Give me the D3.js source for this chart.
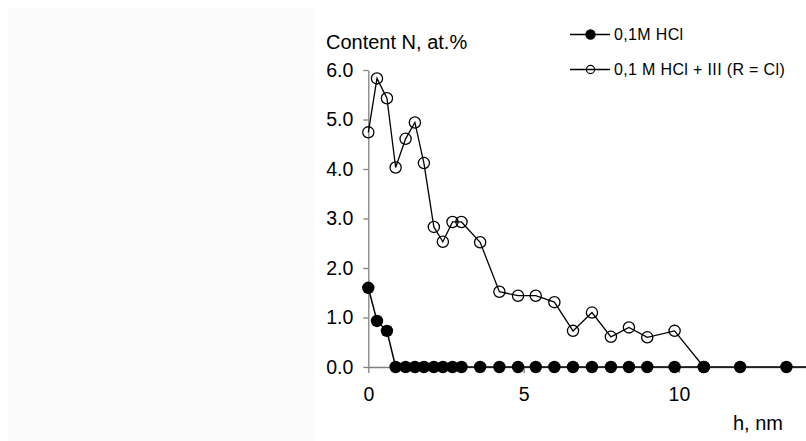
<!DOCTYPE html>
<html>
<head>
<meta charset="utf-8">
<script src="https://cdn.jsdelivr.net/npm/d3@7"></script>
<style>
  html, body { margin: 0; padding: 0; background: #ffffff; }
  svg { display: block; font-family: "Liberation Sans", Arial, sans-serif; }
</style>
</head>
<body>
<svg id="chart" width="806" height="441"></svg>
<script>
// ---- data ----
const hValues = [0, 0.28, 0.6, 0.88, 1.2, 1.5, 1.79, 2.11, 2.4, 2.71, 3.0, 3.6, 4.22, 4.82, 5.39, 5.99, 6.59, 7.2, 7.81, 8.39, 8.98, 9.86, 10.8, 11.97, 13.46, 14.6];
const hclValues = [1.6, 0.93, 0.73, 0, 0, 0, 0, 0, 0, 0, 0, 0, 0, 0, 0, 0, 0, 0, 0, 0, 0, 0, 0, 0, 0, 0];
const hclInhibitorValues = [4.74, 5.83, 5.43, 4.03, 4.61, 4.94, 4.12, 2.83, 2.53, 2.93, 2.93, 2.52, 1.52, 1.44, 1.44, 1.31, 0.73, 1.1, 0.61, 0.8, 0.6, 0.73, 0];
const seriesNames = ["0,1M HCl", "0,1 M HCl + III (R = Cl)"];
const yTicks = [0, 1, 2, 3, 4, 5, 6];
const xTicks = [0, 5, 10];
const yTitle = "Content N, at.%";
const xTitle = "h, nm";

// ---- layout ----
const svg = d3.select("#chart");
const W = 806, H = 441;
const x = d3.scaleLinear().domain([0, 14.09]).range([368.3, 806]);
const y = d3.scaleLinear().domain([0, 6]).range([367, 70]);

// faint panel on the left
svg.append("rect").attr("x", 8).attr("y", 8).attr("width", 307).attr("height", 433)
  .attr("fill", "#fbfbfb");

svg.append("defs").append("clipPath").attr("id", "plotclip")
  .append("rect").attr("x", 0).attr("y", 0).attr("width", W).attr("height", H);

// y axis
const yAxis = svg.append("g").attr("transform", `translate(${x(0)},0)`)
  .call(d3.axisLeft(y).tickValues(yTicks).tickFormat(d3.format(".1f")).tickSize(5).tickPadding(10).tickSizeOuter(0));
yAxis.select(".domain").attr("stroke", "#808080").attr("stroke-width", 1.3);
yAxis.selectAll(".tick line").attr("stroke", "#808080").attr("stroke-width", 1.3);
yAxis.selectAll(".tick text").attr("font-size", "19.5px").attr("fill", "#000")
  .attr("font-family", "Liberation Sans, Arial, sans-serif");

// x axis
const xAxis = svg.append("g").attr("transform", `translate(0,${y(0)})`)
  .call(d3.axisBottom(x).tickValues(xTicks).tickFormat(d3.format("d")).tickSize(6).tickPadding(14).tickSizeOuter(0));
xAxis.select(".domain").attr("stroke", "#808080").attr("stroke-width", 1.3);
xAxis.selectAll(".tick line").attr("stroke", "#808080").attr("stroke-width", 1.3);
xAxis.selectAll(".tick text").attr("font-size", "19.5px").attr("fill", "#000")
  .attr("font-family", "Liberation Sans, Arial, sans-serif");

// titles
svg.append("text").attr("x", 326).attr("y", 48.5).attr("font-size", "20px").attr("fill", "#000").text(yTitle);
svg.append("text").attr("x", 733).attr("y", 430).attr("font-size", "20px").attr("fill", "#000").text(xTitle);

const plot = svg.append("g").attr("clip-path", "url(#plotclip)");
const line = d3.line().x(d => x(d[0])).y(d => y(d[1]));

// open series
const openData = hclInhibitorValues.map((v, i) => [hValues[i], v]);
plot.append("path").datum(openData).attr("d", line)
  .attr("fill", "none").attr("stroke", "#000").attr("stroke-width", 1.3);
plot.selectAll("circle.open").data(openData).join("circle").attr("class", "open")
  .attr("cx", d => x(d[0])).attr("cy", d => y(d[1])).attr("r", 5.6)
  .attr("fill", "none").attr("stroke", "#000").attr("stroke-width", 1.3);

// filled series
const fillData = hclValues.map((v, i) => [hValues[i], v]);
plot.append("path").datum(fillData).attr("d", line)
  .attr("fill", "none").attr("stroke", "#000").attr("stroke-width", 1.5);
plot.selectAll("circle.filled").data(fillData).join("circle").attr("class", "filled")
  .attr("cx", d => x(d[0])).attr("cy", d => y(d[1])).attr("r", 6.2)
  .attr("fill", "#000");

// legend
const legend = svg.append("g");
const legRows = [
  { name: seriesNames[0], y: 34.5, filled: true },
  { name: seriesNames[1], y: 69.5, filled: false }
];
legRows.forEach(r => {
  legend.append("line").attr("x1", 570).attr("x2", 610).attr("y1", r.y).attr("y2", r.y)
    .attr("stroke", "#000").attr("stroke-width", 1.3);
  legend.append("circle").attr("cx", 590.5).attr("cy", r.y).attr("r", r.filled ? 4.6 : 4.1)
    .attr("fill", r.filled ? "#000" : "none").attr("stroke", "#000").attr("stroke-width", 1.2);
  legend.append("text").attr("x", 614).attr("y", r.y + 5.6).attr("font-size", "16px")
    .attr("letter-spacing", "0.35px").attr("fill", "#000").text(r.name);
});
</script>
</body>
</html>
